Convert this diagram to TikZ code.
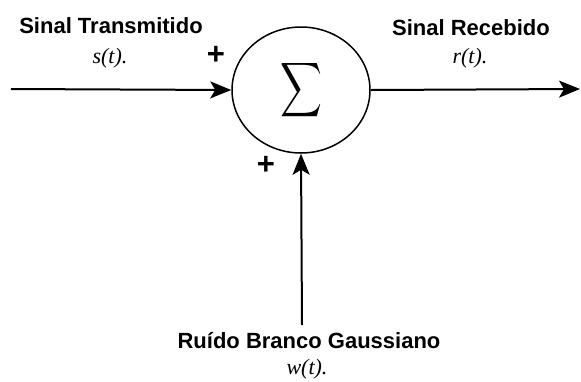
\documentclass[tikz,border=0pt]{standalone}
\usepackage{fontspec}
\setmainfont{Liberation Sans}
\newfontfamily\sigfont{Liberation Serif}
\usetikzlibrary{arrows.meta,shapes.geometric}

\begin{document}
\begin{tikzpicture}[x=1pt, y=-1pt]
    \definecolor{myline}{RGB}{0,0,0}
    \tikzset{mylabel/.style={anchor=base, font=\fontsize{22}{24}\selectfont\bfseries},
             mysig/.style={anchor=base, font=\fontsize{22}{24}\selectfont\sigfont\itshape},
             myplus/.style={inner sep=0pt, font=\fontsize{31}{33}\selectfont\bfseries},
             myarrow/.style={myline, line width=2pt, -{Stealth[length=21pt,width=17pt,inset=5pt]}}}
    \useasboundingbox (0,0) rectangle (581,381);

    \node[ellipse, draw=myline, line width=1.5pt, minimum width=138pt, minimum height=126pt, inner sep=0pt] (soma) at (301,90) {};
    \node[xscale=2.9, yscale=3.8] (sigma) at (soma.center) {$\displaystyle\sum$};

    \coordinate (entrada) at (11,89);
    \coordinate (saida) at (580,89);
    \coordinate (ruido) at (302,325);
    \draw[myarrow] (entrada) -- (soma.west);
    \draw[myarrow] (soma.east) -- (saida);
    \draw[myarrow] (ruido) -- (soma.south);

    \node[mylabel] (tx) at (111,33) {Sinal Transmitido};
    \node[mysig] (st) at (110,63) {s(t).};
    \node[myplus] (mais1) at (216,55) {+};
    \node[mylabel] (rx) at (471,35) {Sinal Recebido};
    \node[mysig] (rt) at (470,63) {r(t).};
    \node[myplus] (mais2) at (266,165) {+};
    \node[mylabel] (ru) at (309,348) {Ruído Branco Gaussiano};
    \node[mysig] (wt) at (307,374) {w(t).};
\end{tikzpicture}
\end{document}
